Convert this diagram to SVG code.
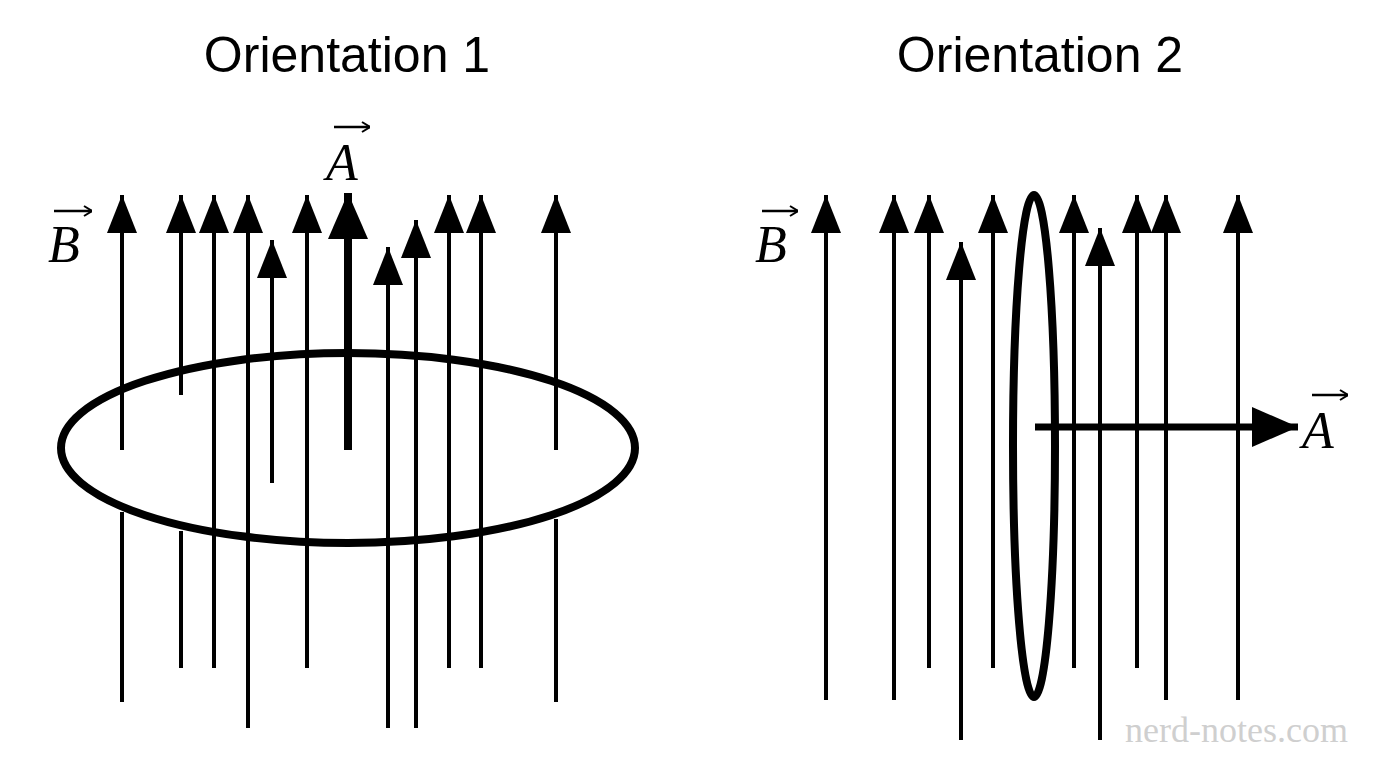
<svg xmlns="http://www.w3.org/2000/svg" width="1376" height="768" viewBox="0 0 1376 768">
<style>
.t{font-family:"Liberation Sans",Arial,sans-serif;font-size:50px;fill:#000}
.v{font-family:"Liberation Serif","DejaVu Serif",serif;font-style:italic;font-size:52px;fill:#000}
.f{stroke:#000;stroke-width:4;fill:none}
.va{stroke:#000;stroke-width:2.5;fill:none}
.loop{stroke:#000;stroke-width:8;fill:none}
</style>
<defs>
<marker id="ah" markerUnits="userSpaceOnUse" markerWidth="40" markerHeight="40" viewBox="-40 -20 40 40" refX="0" refY="0" orient="auto"><path d="M0,0 L-38,-15 L-38,15 Z" fill="#000"/></marker>
<marker id="ahb" markerUnits="userSpaceOnUse" markerWidth="50" markerHeight="50" viewBox="-50 -25 50 50" refX="0" refY="0" orient="auto"><path d="M0,0 L-46,-20 L-46,20 Z" fill="#000"/></marker>
<marker id="sh" markerUnits="userSpaceOnUse" markerWidth="14" markerHeight="14" viewBox="-14 -7 14 14" refX="0" refY="0" orient="auto"><path d="M-8,-5 L0,0 L-8,5" stroke="#000" stroke-width="2" fill="none"/></marker>
</defs>
<rect width="1376" height="768" fill="#fff"/>
<text class="t" x="347" y="72" text-anchor="middle">Orientation 1</text>
<text class="t" x="1040" y="72" text-anchor="middle">Orientation 2</text>
<g id="left-loop"><ellipse class="loop" cx="348" cy="448" rx="287" ry="95"/></g>
<g id="connectors">
<g class="f" marker-end="url(#ah)">
<line x1="122" y1="450" x2="122" y2="195"/>
<line x1="181" y1="395" x2="181" y2="195"/>
<line x1="214" y1="668" x2="214" y2="195"/>
<line x1="248" y1="728" x2="248" y2="195"/>
<line x1="272" y1="483" x2="272" y2="240"/>
<line x1="307" y1="668" x2="307" y2="195"/>
<line x1="388" y1="728" x2="388" y2="247"/>
<line x1="416" y1="728" x2="416" y2="220"/>
<line x1="449" y1="668" x2="449" y2="195"/>
<line x1="481" y1="668" x2="481" y2="195"/>
<line x1="556" y1="450" x2="556" y2="195"/>
<line x1="826" y1="700" x2="826" y2="195"/>
<line x1="894" y1="700" x2="894" y2="195"/>
<line x1="929" y1="668" x2="929" y2="195"/>
<line x1="961" y1="740" x2="961" y2="242"/>
<line x1="993" y1="668" x2="993" y2="195"/>
<line x1="1074" y1="668" x2="1074" y2="195"/>
<line x1="1100" y1="740" x2="1100" y2="228"/>
<line x1="1137" y1="668" x2="1137" y2="195"/>
<line x1="1166" y1="700" x2="1166" y2="195"/>
<line x1="1238" y1="700" x2="1238" y2="195"/>
</g>
<g class="f">
<line x1="122" y1="512" x2="122" y2="702"/>
<line x1="181" y1="531" x2="181" y2="668"/>
<line x1="556" y1="519" x2="556" y2="702"/>
</g>
<line x1="348" y1="450" x2="348" y2="193" stroke="#000" stroke-width="8" marker-end="url(#ahb)"/>
<line x1="1035" y1="427" x2="1298" y2="427" stroke="#000" stroke-width="7" marker-end="url(#ahb)"/>
</g>
<g id="right-loop"><ellipse class="loop" cx="1034" cy="446" rx="21" ry="251" stroke-width="7"/></g>
<g id="labels">
<text class="v" x="48" y="262">B</text>
<line class="va" x1="54" y1="211" x2="92" y2="211" marker-end="url(#sh)"/>
<text class="v" x="326" y="180">A</text>
<line class="va" x1="334" y1="127" x2="370" y2="127" marker-end="url(#sh)"/>
<text class="v" x="755" y="262">B</text>
<line class="va" x1="762" y1="211" x2="798" y2="211" marker-end="url(#sh)"/>
<text class="v" x="1302" y="448">A</text>
<line class="va" x1="1312" y1="395" x2="1348" y2="395" marker-end="url(#sh)"/>
</g>
<text x="1348" y="742" text-anchor="end" font-family="Liberation Serif,serif" font-size="36" fill="#cfcfcf">nerd-notes.com</text>
</svg>
